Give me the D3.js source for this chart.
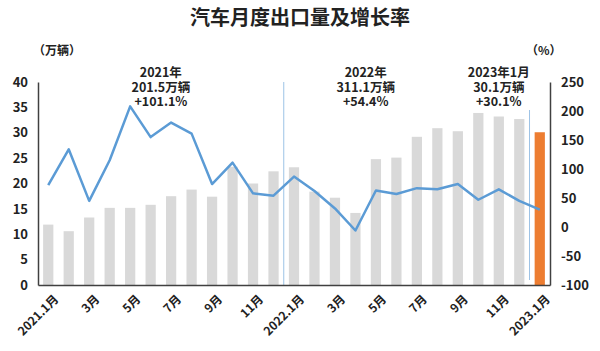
<!DOCTYPE html>
<html>
<head>
<meta charset="utf-8">
<script src="https://d3js.org/d3.v7.min.js"></script>
<style>
  body { margin: 0; background: #fff; }
  text { font-family: "Noto Sans CJK SC", "Noto Sans", sans-serif; }
</style>
</head>
<body>
<svg id="chart" width="600" height="351"></svg>
<script>
// months 2021.1 .. 2023.1
var months = ["2021.1月","2月","3月","4月","5月","6月","7月","8月","9月","10月","11月","12月",
              "2022.1月","2月","3月","4月","5月","6月","7月","8月","9月","10月","11月","12月","2023.1月"];
// export volume (万辆)
var volume = [11.9,10.6,13.3,15.2,15.2,15.8,17.5,18.8,17.4,23.3,20.0,22.4,
              23.2,18.4,17.2,14.2,24.8,25.1,29.2,30.9,30.3,33.9,33.2,32.7,30.1];
// YoY growth (%)
var growth = [72,134,45,115,208,155,180,161,74,111,58,54,
              87,62,32,-6,63,57,67,65,74,47,65,45,30];
var leftTicks = [0,5,10,15,20,25,30,35,40];
var rightTicks = [-100,-50,0,50,100,150,200,250];
var notes = [
  {at: 5.5, lines: ["2021年","201.5万辆","+101.1%"]},
  {at: 15.5, lines: ["2022年","311.1万辆","+54.4%"]},
  {at: 22.0, lines: ["2023年1月","30.1万辆","+30.1%"]}
];

(function () {
var svg = d3.select("#chart");
var mLeft = 38, mRight = 550, mTop = 82, mBottom = 285;

var x = d3.scaleBand().domain(d3.range(months.length)).range([mLeft, mRight]).paddingInner(0.5).paddingOuter(0.25);
var yL = d3.scaleLinear().domain([0, 40]).range([mBottom, mTop]);
var yR = d3.scaleLinear().domain([-100, 250]).range([mBottom, mTop]);
var cx = function (i) { return x(i) + x.bandwidth() / 2; };

// title
svg.append("text").attr("x", 300).attr("y", 25).attr("text-anchor", "middle")
  .attr("font-size", 20).attr("font-weight", "bold").attr("fill", "#222").text("汽车月度出口量及增长率");
svg.append("text").attr("x", 33).attr("y", 55).attr("font-size", 12).attr("font-weight", "bold").attr("fill", "#222").text("（万辆）");
svg.append("text").attr("x", 526).attr("y", 55).attr("font-size", 12).attr("font-weight", "bold").attr("fill", "#222").text("（%）");

// bars
svg.append("g").selectAll("rect").data(volume).join("rect")
  .attr("x", function (d, i) { return x(i); })
  .attr("width", x.bandwidth())
  .attr("y", function (d) { return yL(d); })
  .attr("height", function (d) { return mBottom - yL(d); })
  .attr("fill", function (d, i) { return i == volume.length - 1 ? "#ed7d31" : "#d9d9d9"; });

// year separators
var sep1 = (cx(11) + cx(12)) / 2, sep2 = (cx(23) + cx(24)) / 2;
svg.append("line").attr("x1", sep1).attr("x2", sep1).attr("y1", mTop).attr("y2", mBottom)
  .attr("stroke", "#9dc3e6").attr("stroke-width", 1);
svg.append("line").attr("x1", sep2).attr("x2", sep2).attr("y1", 110).attr("y2", 280)
  .attr("stroke", "#9dc3e6").attr("stroke-width", 1);

// growth line
svg.append("path").datum(growth)
  .attr("fill", "none").attr("stroke", "#5b9bd5").attr("stroke-width", 2.5)
  .attr("stroke-linejoin", "round")
  .attr("d", d3.line().x(function (d, i) { return cx(i); }).y(function (d) { return yR(d); }));

// axes
var plain = function (d) { return String(d); };
var axL = svg.append("g").attr("transform", "translate(" + mLeft + ",0)")
  .call(d3.axisLeft(yL).tickValues(leftTicks).tickSize(0).tickPadding(10).tickFormat(plain));
var axR = svg.append("g").attr("transform", "translate(" + mRight + ",0)")
  .call(d3.axisRight(yR).tickValues(rightTicks).tickSize(0).tickPadding(11).tickFormat(plain));
var axB = svg.append("g").attr("transform", "translate(0," + mBottom + ")")
  .call(d3.axisBottom(x).tickValues(d3.range(0, months.length, 2)).tickSize(0)
    .tickFormat(function (i) { return months[i]; }));
[axL, axR, axB].forEach(function (a) {
  a.select(".domain").attr("stroke", "#404040").attr("stroke-width", 1.5);
  a.selectAll("text").attr("font-size", 13).attr("font-weight", "bold").attr("fill", "#222")
    .attr("font-family", "'Noto Sans CJK SC', sans-serif");
});
axB.selectAll("text").attr("text-anchor", "end").attr("font-size", 12)
  .attr("transform", "translate(8,12) rotate(-45)").attr("dy", "0.35em").attr("y", 0);

// annotations, one text per line
notes.forEach(function (n) {
  var nx = x(0) + x.step() * n.at + x.bandwidth() / 2;
  n.lines.forEach(function (s, k) {
    svg.append("text").attr("text-anchor", "middle").attr("font-size", 12.5)
      .attr("font-weight", "bold").attr("fill", "#222")
      .attr("x", nx).attr("y", 77 + k * 14.5).text(s);
  });
});
})();
</script>
</body>
</html>
